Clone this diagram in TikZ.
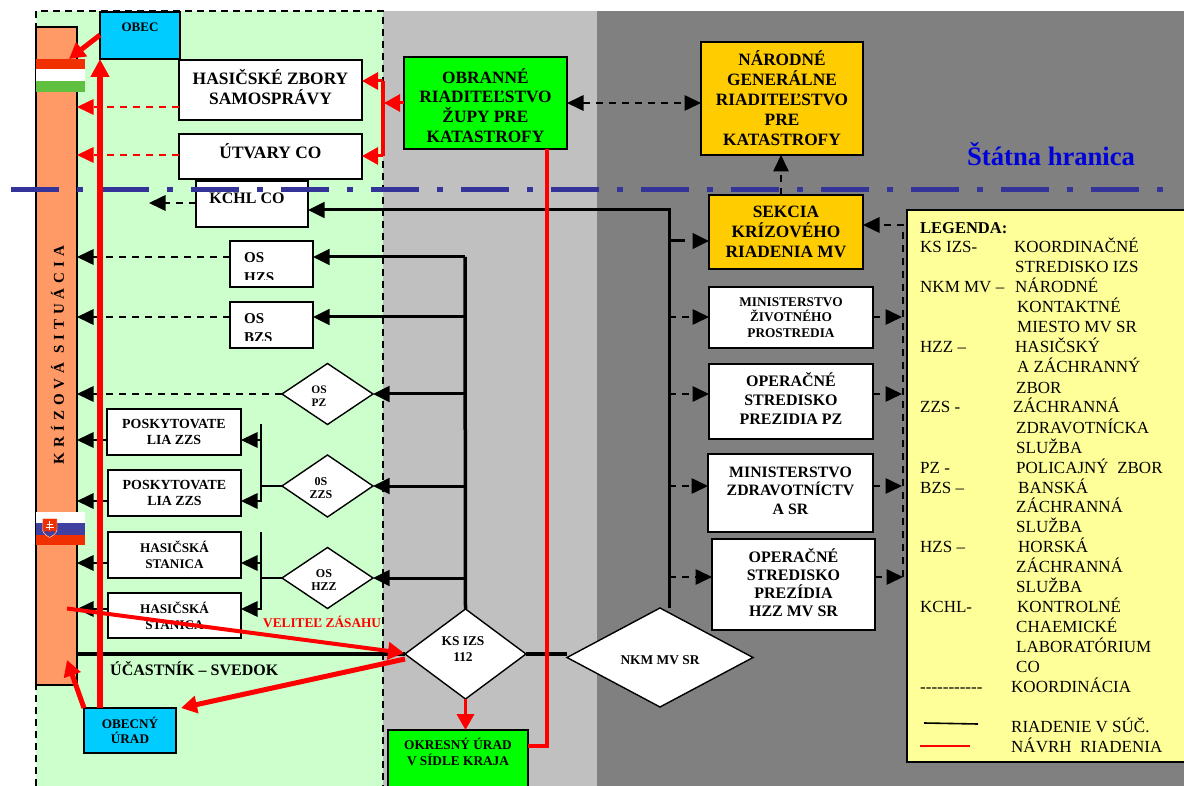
\documentclass[tikz,border=0pt]{standalone}
\usepackage{fontspec}
\setmainfont{Liberation Serif}
\usetikzlibrary{arrows.meta,shapes.geometric}
\definecolor{lgreen}{HTML}{CCFFCC}
\definecolor{lgray}{HTML}{C0C0C0}
\definecolor{dgray}{HTML}{808080}
\definecolor{orangeb}{HTML}{FF9966}
\definecolor{yellowb}{HTML}{FFFF99}
\definecolor{blueb}{HTML}{00CCFF}
\definecolor{greenb}{HTML}{00FF00}
\definecolor{amberb}{HTML}{FFCC00}
\definecolor{borderblue}{HTML}{333399}
\definecolor{flagred}{HTML}{F03000}
\definecolor{flaggreen}{HTML}{60C040}
\definecolor{flagblue}{HTML}{4040A0}
\newcommand\fs[2]{\fontsize{#1}{#2}\selectfont}
\tikzset{
  boxb/.style={draw=black,line width=1.6pt,inner sep=0pt,outer sep=0pt,rectangle},
  diam/.style={draw=black,line width=1.4pt,fill=white,shape=diamond,inner sep=0pt,outer sep=0pt,aspect=1},
  tipk/.style={-{Triangle[length=16.5pt,width=15.5pt]}},
  tipkk/.style={{Triangle[length=16.5pt,width=15.5pt]}-{Triangle[length=16.5pt,width=15.5pt]}},
  ctrl/.style={tipk,black,line width=3pt},
  coord/.style={tipk,black,line width=1.6pt,dash pattern=on 7pt off 6pt},
  ctrlthin/.style={black,line width=1.6pt},
  redd/.style={tipk,red,line width=1.6pt,dash pattern=on 7pt off 6pt},
  redt/.style={red,line width=4pt},
  reda/.style={redt,-{Triangle[length=16pt,width=17pt]}},
  lgt/.style={anchor=base west,inner sep=0pt,font=\fs{17}{20}},
}
\newcommand\bx[8]{%
  \pgfmathsetmacro\bw{#4-#2}\pgfmathsetmacro\bh{#5-#3}%
  \pgfmathsetmacro\cx{(#2+#4)/2}\pgfmathsetmacro\cy{(#3+#5)/2}%
  \pgfmathsetmacro\tw{\bw-2}%
  \node[boxb,minimum width=\bw pt,minimum height=\bh pt,#6] (#1) at (\cx,\cy)
   {\raisebox{\dimexpr#7pt-0.25em\relax}[0pt][0pt]{\parbox[c]{\tw pt}{\centering #8}}};}
\begin{document}
\begin{tikzpicture}[x=1pt,y=-1pt]
\useasboundingbox (0,0) rectangle (1184,786);
% zones
\fill[lgreen] (36,11) rectangle (383,786);
\fill[lgray] (383,11) rectangle (597,786);
\fill[dgray] (597,11) rectangle (1184,786);
\draw[black,line width=1.4pt,dash pattern=on 7pt off 5pt] (36,786) -- (36,11) -- (383,11) -- (383,786);

% left bar
\bx{bar}{36}{27}{77}{685}{fill=orangeb}{0}{}
\node[rotate=90,inner sep=0pt,font=\fs{15}{18}\bfseries\addfontfeature{LetterSpace=33}] (barlabel) at (57.5,355) {KRÍZOVÁ SITUÁCIA};
% flags
\fill[white] (36,59) rectangle (85,92);
\fill[flagred] (36,59) rectangle (85,69);
\fill[flaggreen] (36,81) rectangle (85,92);
\fill[white] (36,512) rectangle (85,523);
\fill[flagblue] (36,523) rectangle (85,535);
\fill[flagred] (36,535) rectangle (85,545);
\fill[flagred,draw=white,line width=.4pt] (42.5,518.5) -- (57,518.5) -- (57,530) .. controls (56.5,534) and (52,536) .. (49.7,537.5) .. controls (47.5,536) and (43,534) .. (42.5,530) -- cycle;
\fill[flagblue] (44,532) .. controls (46,530) and (48,531) .. (49.7,532) .. controls (51.5,531) and (53.5,530) .. (55.5,532) .. controls (54,534.5) and (51.5,535.5) .. (49.7,536.6) .. controls (48,535.5) and (45.5,534.5) .. (44,532) -- cycle;
\draw[white,line width=1pt] (49.7,521) -- (49.7,530) (46.5,524) -- (53,524) (45.5,527) -- (54,527);

% boxes
\bx{obec}{100}{12}{180}{59}{fill=blueb,font=\fs{13}{15}\bfseries}{8.5}{OBEC}
\bx{hz}{179}{60}{362}{120}{fill=white,font=\fs{17.4}{20}\bfseries}{3}{HASIČSKÉ ZBORY\\SAMOSPRÁVY}
\bx{ut}{179}{134}{362}{179}{fill=white,font=\fs{17.4}{20}\bfseries}{5}{ÚTVARY CO}
\bx{kchl}{196}{181}{308}{227}{fill=white,font=\fs{16}{18}\bfseries}{5}{KCHL CO\hspace*{10pt}}
\bx{oshzs}{230}{241}{313}{287}{fill=white}{0}{}
\bx{osbzs}{230}{302}{313}{348}{fill=white}{0}{}
\begin{scope}
\clip (232,243) rectangle (311,280);
\node[anchor=base west,inner sep=0pt,font=\fs{15}{19}\bfseries] (oshzst) at (244,263) {OS};
\node[anchor=base west,inner sep=0pt,font=\fs{15}{19}\bfseries] (oshzsu) at (244,282.5) {HZS};
\end{scope}
\begin{scope}
\clip (232,304) rectangle (311,341);
\node[anchor=base west,inner sep=0pt,font=\fs{15}{19}\bfseries] (osbzst) at (244,324) {OS};
\node[anchor=base west,inner sep=0pt,font=\fs{15}{19}\bfseries] (osbzsu) at (244,343) {BZS};
\end{scope}
\bx{pos1}{107}{409}{241}{455}{fill=white,font=\fs{13.9}{16}\bfseries}{0}{POSKYTOVATE\\LIA ZZS}
\bx{pos2}{108}{470}{241}{516}{fill=white,font=\fs{13.9}{16}\bfseries}{0}{POSKYTOVATE\\LIA ZZS}
\bx{has1}{108}{532}{241}{578}{fill=white,font=\fs{13.2}{16}\bfseries}{0}{HASIČSKÁ\\STANICA}
\bx{has2}{108}{593}{241}{638}{fill=white,font=\fs{13.2}{16}\bfseries}{0}{HASIČSKÁ\\STANICA}
\bx{obu}{84}{708}{176}{753}{fill=blueb,font=\fs{13.2}{15}\bfseries}{0.5}{OBECNÝ\\ÚRAD}
\bx{okr}{388}{730}{528}{790}{fill=greenb,font=\fs{13.3}{16}\bfseries}{8}{OKRESNÝ ÚRAD\\V SÍDLE KRAJA}
\bx{obr}{404}{57}{567}{149}{fill=greenb,font=\fs{17.3}{19.7}\bfseries}{-2.5}{OBRANNÉ\\RIADITEĽSTVO\\ŽUPY PRE\\KATASTROFY}
\bx{nar}{701}{42}{863}{155}{fill=amberb,font=\fs{17.3}{20}\bfseries}{0}{NÁRODNÉ\\GENERÁLNE\\RIADITEĽSTVO\\PRE\\KATASTROFY}
\bx{sek}{709}{195}{863}{269}{fill=amberb,font=\fs{17.3}{20}\bfseries}{0}{SEKCIA\\KRÍZOVÉHO\\RIADENIA MV}
\bx{mzp}{709}{287}{873}{348}{fill=white,font=\fs{13.3}{15.5}\bfseries}{0}{MINISTERSTVO\\ŽIVOTNÉHO\\PROSTREDIA}
\bx{opz}{709}{364}{873}{439}{fill=white,font=\fs{16}{19}\bfseries}{2.5}{OPERAČNÉ\\STREDISKO\\PREZIDIA PZ}
\bx{mzd}{708}{454}{873}{532}{fill=white,font=\fs{15.8}{18.5}\bfseries}{3}{MINISTERSTVO\\ZDRAVOTNÍCTV\\A SR}
\bx{ohz}{712}{539}{875}{630}{fill=white,font=\fs{16}{18}\bfseries}{1.5}{OPERAČNÉ\\STREDISKO\\PREZÍDIA\\HZZ MV SR}
\bx{leg}{907}{210}{1192}{762}{fill=yellowb}{0}{}

% diamonds
\node[diam,minimum width=91pt,minimum height=61pt] (ospz) at (327.5,394) {};
\node[diam,minimum width=91pt,minimum height=62pt] (oszzs) at (327.5,486) {};
\node[diam,minimum width=91pt,minimum height=61pt] (oshzz) at (327.5,578) {};
\node[diam,minimum width=121pt,minimum height=90pt] (ksizs) at (465.5,654) {};
\node[diam,minimum width=186pt,minimum height=99pt] (nkm) at (660,657.5) {};
\node[inner sep=0pt,align=center,font=\fs{11.5}{13}\bfseries] (ospzt) at (319,396) {OS\\PZ};
\node[inner sep=0pt,align=center,font=\fs{12}{13}\bfseries] (oszzst) at (321,488) {0S\\ZZS};
\node[inner sep=0pt,align=center,font=\fs{12}{13}\bfseries] (oshzzt) at (324,580) {OS\\HZZ};
\node[inner sep=0pt,align=center,font=\fs{13.4}{16}\bfseries] (ksizst) at (463,649) {KS IZS\\112};
\node[inner sep=0pt,font=\fs{13.4}{16}\bfseries] (nkmt) at (660,660) {NKM MV SR};

% named free points
\coordinate (vA) at (669,210);
\coordinate (vB) at (669,608);
\coordinate (kA) at (465,257);
\coordinate (yB) at (465,317);
\coordinate (yP) at (465,394);
\coordinate (yZ) at (465,486);
\coordinate (yH) at (465,578);
\coordinate (y241) at (669,241);
\coordinate (y317) at (669,317);
\coordinate (y394) at (669,394);
\coordinate (y486) at (669,486);
\coordinate (y577) at (669,577);
\coordinate (dA) at (903,225);
\coordinate (d317) at (902,317);
\coordinate (d394) at (902,394);
\coordinate (d486) at (902,486);
\coordinate (d577) at (903,577);
\coordinate (kfree) at (149,203);
\coordinate (br1t) at (261,424);
\coordinate (br1b) at (261,502);
\coordinate (br2t) at (261,532);
\coordinate (br2b) at (261,609.5);
\coordinate (b440) at (261,440);
\coordinate (b501) at (261,501);
\coordinate (b563) at (261,563);
\coordinate (b609) at (261,609);
\coordinate (bz) at (261,486);
\coordinate (bh) at (261,578);
\coordinate (y103) at (600,103);
\coordinate (y107) at (80,107);
\coordinate (y155) at (80,155);
\coordinate (y35) at (80,35);
\coordinate (x100) at (100,400);
\coordinate (rA) at (383,81);
\coordinate (rB) at (383,156);
\coordinate (rC) at (384,103);
\coordinate (rT) at (547,746);
\coordinate (rS) at (67,608.5);
\coordinate (rK) at (404,653);
\coordinate (rK2) at (405,659);
\coordinate (rO) at (181,708);
\coordinate (rF) at (69,59);
\coordinate (rB2) at (67,660);
\coordinate (rB3) at (84,708);
\coordinate (yN) at (781,155);
\coordinate (ySK) at (781,195);

% coordination (dashed)
\draw[coord] (kchl.west |- kfree) -- (kfree);
\draw[coord] (oshzs.west |- kA) -- (bar.east |- kA);
\draw[coord] (osbzs.west |- yB) -- (bar.east |- yB);
\draw[coord] (ospz.west) -- (bar.east |- ospz.west);
\draw[coord] (ySK) -- (yN);
\draw[coord,tipkk] (obr.east |- y103) -- (nar.west |- y103);
\draw[coord] (y317) -- (mzp.west |- y317);
\draw[coord] (y394) -- (opz.west |- y394);
\draw[coord] (y486) -- (mzd.west |- y486);
\draw[coord] (y577) -- (ohz.west |- y577);
\draw[coord] (mzp.east |- d317) -- (d317);
\draw[coord] (opz.east |- d394) -- (d394);
\draw[coord] (mzd.east |- d486) -- (d486);
\draw[coord] (ohz.east |- d577) -- (d577);
\draw[coord] (d577) -- (dA) -- (sek.east |- dA);

% control (solid black)
\draw[ctrl] (vB) -- (vA) -- (kchl.east |- vA);
\draw[ctrl,dash pattern=on 16pt off 9pt] (y241) -- (sek.west |- y241);
\draw[black,line width=3.5pt,line cap=butt] (ksizs.north) -- (kA);
\draw[ctrl] (kA) -- (oshzs.east |- kA);
\draw[ctrl] (yB) -- (osbzs.east |- yB);
\draw[ctrl] (yP) -- (ospz.east |- yP);
\draw[ctrl] (yZ) -- (oszzs.east |- yZ);
\draw[ctrl] (yH) -- (oshzz.east |- yH);
\draw[black,line width=3.5pt] (bar.east |- ksizs.west) -- (ksizs.west);
\draw[black,line width=3.5pt] (ksizs.east) -- (nkm.west |- ksizs.east);
\draw[ctrlthin] (br1t) -- (br1b);
\draw[ctrlthin] (br2t) -- (br2b);
\draw[ctrlthin] (bz) -- (oszzs.west);
\draw[ctrlthin] (bh) -- (oshzz.west);
\draw[ctrlthin,tipk] (b440) -- (pos1.east |- b440);
\draw[ctrlthin,tipk] (b501) -- (pos2.east |- b501);
\draw[ctrlthin,tipk] (b563) -- (has1.east |- b563);
\draw[ctrlthin,tipk] (b609) -- (has2.east |- b609);
\draw[ctrlthin,tipk] (pos1.west |- b440) -- (bar.east |- b440);
\draw[ctrlthin,tipk] (pos2.west |- b501) -- (bar.east |- b501);
\draw[ctrlthin,tipk] (has1.west |- b563) -- (bar.east |- b563);
\draw[ctrlthin,tipk] (has2.west |- b609) -- (bar.east |- b609);

% blue border
\coordinate (blueL) at (11,189.5);
\coordinate (blueR) at (1165,189.5);
\draw[borderblue,line width=5pt,dash pattern=on 48pt off 18pt on 6pt off 18pt] (blueL) -- (blueR);
\node[anchor=base west,inner sep=0pt,text=blue!85!black,font=\fs{26.6}{28}\bfseries] (hranica) at (967,166) {Štátna hranica};

% red connections
\draw[redd] (hz.west |- y107) -- (bar.east |- y107);
\draw[redd] (ut.west |- y155) -- (bar.east |- y155);
\draw[red,line width=6pt,-{Triangle[length=18pt,width=18pt]}] (obu.north -| x100) -- (obec.south -| x100);
\draw[reda,line width=5pt] (obec.west |- y35) -- (rF);
\draw[red,line width=3.5pt] (rA) -- (rB);
\draw[reda,line width=3pt] (rA) -- (hz.east |- rA);
\draw[reda,line width=3pt] (rB) -- (ut.east |- rB);
\draw[reda,line width=3pt] (obr.west |- rC) -- (rC);
\draw[red,line width=3.5pt] (obr.south -| rT) -- (rT) -- (okr.east |- rT);
\draw[reda,line width=3.5pt] (ksizs.south) -- (okr.north -| ksizs.south);
\draw[reda,line width=4pt] (rS) -- (rK);
\draw[reda,line width=5pt] (rK2) -- (rO);
\draw[reda,line width=5pt] (rB3) -- (rB2);

% free labels
\node[anchor=base west,inner sep=0pt,text=red,font=\fs{13.3}{15}\bfseries] (velitel) at (263,627) {VELITEĽ ZÁSAHU};
\node[anchor=base west,inner sep=0pt,font=\fs{16}{18}\bfseries] (ucast) at (110,675) {ÚČASTNÍK – SVEDOK};

% legend
\node[lgt,font=\fs{16.5}{20}\bfseries] (lgh) at (920,234) {LEGENDA:};
\foreach \x/\y/\t [count=\i] in {
920/253/KS IZS-,1014/253/KOORDINAČNÉ,1015/273/STREDISKO IZS,
920/293/NKM MV –,1015/293/NÁRODNÉ,1017/313/KONTAKTNÉ,1017/333/MIESTO MV SR,
920/353/HZZ –,1015/353/HASIČSKÝ,1017/373/A ZÁCHRANNÝ,1016/393/ZBOR,
920/413/ZZS -,1013/413/ZÁCHRANNÁ,1016/433/ZDRAVOTNÍCKA,1016/453/SLUŽBA,
920/473/PZ -,1016/473/POLICAJNÝ\ \ ZBOR,
920/493/BZS –,1018/493/BANSKÁ,1016/512/ZÁCHRANNÁ,1016/532/SLUŽBA,
920/552/HZS –,1018/552/HORSKÁ,1016/572/ZÁCHRANNÁ,1016/592/SLUŽBA,
920/612/KCHL-,1017/612/KONTROLNÉ,1016/632/CHAEMICKÉ,1016/652/LABORATÓRIUM,1016/672/CO,
920/692/{-}{-}{-}{-}{-}{-}{-}{-}{-}{-}{-},1011/692/KOORDINÁCIA,
1011/732/RIADENIE V SÚČ.,1011/752/NÁVRH\ \ RIADENIA}
{ \node[lgt] (lg\i) at (\x,\y) {\t}; }
\coordinate (lgkA) at (924,723);
\coordinate (lgkB) at (978,724);
\coordinate (lgrA) at (920,746);
\coordinate (lgrB) at (970,746);
\draw[black,line width=1.6pt] (lgkA) -- (lgkB);
\draw[red,line width=1.6pt] (lgrA) -- (lgrB);
\end{tikzpicture}
\end{document}
